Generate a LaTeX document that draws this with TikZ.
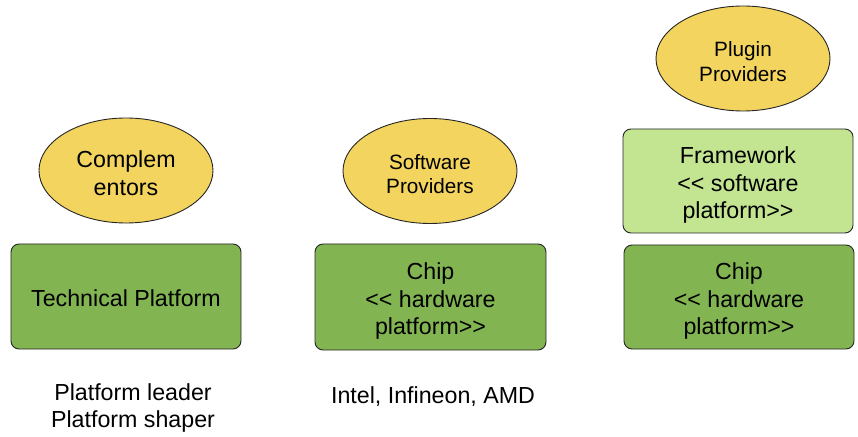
\documentclass[tikz,border=0pt]{standalone}
\usepackage{fontspec}
\setmainfont{Liberation Sans}
\usetikzlibrary{shapes.geometric}
\definecolor{ellfill}{HTML}{F2D45E}
\definecolor{darkgr}{HTML}{82B552}
\definecolor{lightgr}{HTML}{C3E592}
\definecolor{edge}{HTML}{262626}
\tikzset{
  bigtxt/.style={font=\fontsize{23.3}{28}\selectfont, align=center, inner sep=0pt},
  smalltxt/.style={font=\fontsize{20.8}{24.5}\selectfont, align=center, inner sep=0pt},
  oval/.style={ellipse, draw=edge, line width=0.9bp, fill=ellfill, inner sep=0pt,
    minimum width=174bp, minimum height=105bp},
  platbox/.style={rectangle, rounded corners=8bp, draw=edge, line width=0.9bp,
    fill=darkgr, inner sep=0pt, minimum width=230bp, minimum height=105bp},
  swbox/.style={platbox, fill=lightgr}
}
\begin{document}
\begin{tikzpicture}[x=1bp, y=-1bp]
\useasboundingbox (0,0) rectangle (858,437);
% left column
\node[oval] (comp) at (126,170.5) {};
\node[bigtxt] (compT) at ([yshift=-3bp]comp.center) {Complem\\entors};
\node[platbox] (tp) at (126,296.5) {};
\node[bigtxt] (tpT) at ([yshift=-2bp]tp.center) {Technical Platform};
\node[bigtxt] (lead) at (133,408) {Platform leader\\Platform shaper};
% middle column
\node[oval] (swp) at (430,171) {};
\node[smalltxt] (swpT) at ([yshift=-3bp]swp.center) {Software\\Providers};
\node[platbox, minimum width=231bp, minimum height=106bp] (chipa) at (430.5,297) {};
\node[bigtxt] (chipaT) at ([yshift=-4bp]chipa.center) {Chip\\{<}{<} hardware\\platform{>}{>}};
\node[bigtxt] (intel) at (433,397) {Intel, Infineon, AMD};
% right column
\node[oval] (plug) at (743,58.5) {};
\node[smalltxt] (plugT) at ([yshift=-3bp]plug.center) {Plugin\\Providers};
\node[swbox, minimum height=104bp] (fw) at (738,181) {};
\node[bigtxt] (fwT) at ([yshift=-4bp]fw.center) {Framework\\{<}{<} software\\platform{>}{>}};
\node[platbox, minimum height=104bp] (chipb) at (739,297) {};
\node[bigtxt] (chipbT) at ([yshift=-4bp]chipb.center) {Chip\\{<}{<} hardware\\platform{>}{>}};
\end{tikzpicture}
\end{document}
